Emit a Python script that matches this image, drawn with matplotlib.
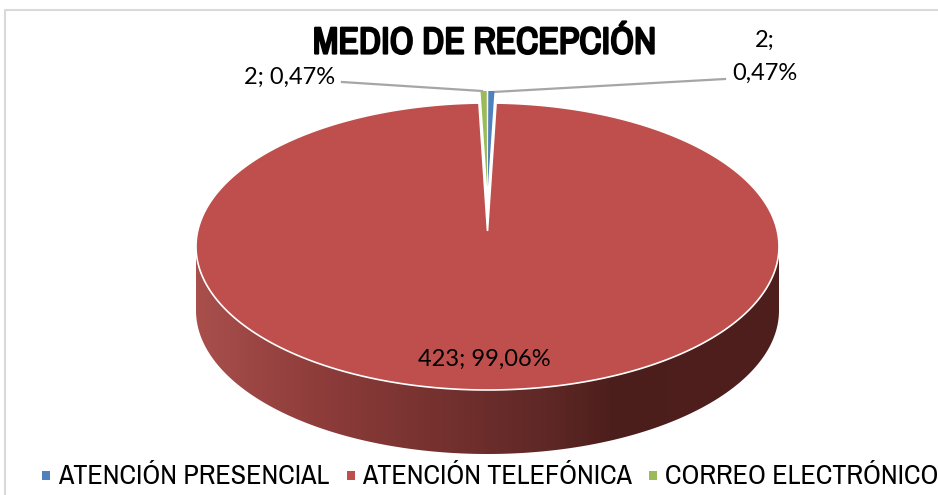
import numpy as np
import matplotlib
matplotlib.use("Agg")
import matplotlib.pyplot as plt
import matplotlib.patheffects as pe
from matplotlib.colors import LinearSegmentedColormap
from matplotlib.patches import Polygon, Rectangle

# data
categories = ["ATENCIÓN PRESENCIAL", "ATENCIÓN TELEFÓNICA", "CORREO ELECTRÓNICO"]
counts = [2, 423, 2]
percents = ["0,47%", "99,06%", "0,47%"]
colors = ["#4F81BD", "#BE4F4C", "#9BBB59"]

narrow = ["Archivo Narrow", "Liberation Sans"]

fig = plt.figure(figsize=(9.38, 4.95), dpi=100)
ax = fig.add_axes([0, 0, 1, 1])
ax.set_xlim(0, 938)
ax.set_ylim(495, 0)
ax.axis("off")

# outer frame of the chart
ax.plot([5, 5, 938], [495, 10, 10], color="#D9D9D9", lw=1.5)

# pie geometry in pixels
cx, cy = 487.5, 246.5
rx, ry = 291.5, 143.5
apex_y = 231
depth = 64

shares = np.array(counts) / sum(counts) * 360
ends = np.cumsum(shares)
starts = ends - shares


def arc(a0, a1, cy_=cy, rx_=rx, ry_=ry):
    t = np.radians(np.linspace(a0, a1, 400))
    return np.column_stack([cx + rx_ * np.sin(t), cy_ - ry_ * np.cos(t)])


# side of the pie, gradient clipped to the front rim
front = arc(90, 270)
side = np.vstack([front, (front + [0, depth])[::-1]])
side_cmap = LinearSegmentedColormap.from_list(
    "side",
    [(0, "#A84F4C"), (0.2, "#8F3D3B"), (0.4, "#773230"), (0.6, "#5F2826"),
     (0.72, "#4C1E1B"), (1, "#4F1F1D")],
)
grad = np.linspace(0, 1, 600).reshape(1, -1)
im = ax.imshow(grad, cmap=side_cmap, extent=[cx - rx, cx + rx, cy + ry + depth, cy],
               aspect="auto", zorder=1)
im.set_clip_path(Polygon(side, transform=ax.transData))
ax.set_xlim(0, 938)
ax.set_ylim(495, 0)

# big slice, its apex sits above the middle of the ellipse
big = np.vstack([[cx, apex_y], arc(starts[1], ends[1])])
ax.add_patch(Polygon(big, closed=True, fc=colors[1], ec="white", lw=1.2, zorder=2))

# the two small slices are pulled out towards the top
small_cy = cy - 12
small_apex = 187
for i, gap in ((0, 1), (2, -1)):
    outer = arc(starts[i], ends[i], small_cy, rx * 0.72)
    pts = np.vstack([[cx + gap * 0.4, small_apex], outer + [gap * 0.8, 0]])
    ax.add_patch(Polygon(pts, closed=True, fc=colors[i], ec="none", zorder=3))

# leader lines
ax.plot([342, 482], [82, 91], color="#A6A6A6", lw=1.6, zorder=2)
ax.plot([725, 493], [79, 92], color="#A6A6A6", lw=1.6, zorder=2)

# title, the narrow font has no bold so thicken it with a stroke
title = ax.text(484.5, 43, "MEDIO DE RECEPCIÓN", ha="center", va="center", fontsize=27,
                family=narrow, color="black")
title.set_path_effects([pe.withStroke(linewidth=1.6, foreground="black")])

# data labels
ax.text(290, 77, f"{counts[2]}; {percents[2]}", ha="center", va="center",
        fontsize=17, family="Lato", color="black")
ax.text(765, 40, f"{counts[0]};", ha="center", va="center",
        fontsize=17, family="Lato", color="black")
ax.text(765, 73, percents[0], ha="center", va="center",
        fontsize=17, family="Lato", color="black")
ax.text(484, 359, f"{counts[1]}; {percents[1]}", ha="center", va="center",
        fontsize=17, family="Lato", color="black")

# legend
marker_x = [42, 347, 649]
text_x = [58, 362, 665]
for name, col, mx, tx in zip(categories, colors, marker_x, text_x):
    ax.add_patch(Rectangle((mx, 471), 8, 9, fc=col, ec="none"))
    ax.text(tx, 477, name, ha="left", va="center", fontsize=20.2, family=narrow, color="black")

fig.savefig("out.png", dpi=100)
